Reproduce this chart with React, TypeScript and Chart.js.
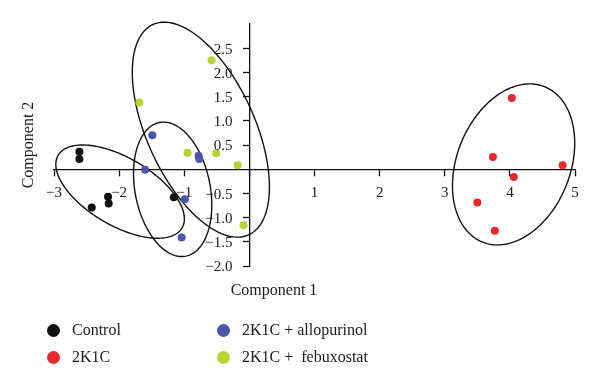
import React, { useEffect, useRef } from 'react';
import Chart from 'chart.js/auto';

// ---- data ----
const controlX = [-2.61, -2.61, -2.42, -2.17, -2.16, -1.16];
const controlY = [0.36, 0.21, -0.79, -0.57, -0.71, -0.58];

const k2c1X = [4.03, 3.74, 4.81, 4.06, 3.5, 3.77];
const k2c1Y = [1.47, 0.25, 0.08, -0.16, -0.69, -1.27];

const alloX = [-1.49, -1.6, -0.78, -0.77, -0.99, -1.04];
const alloY = [0.7, -0.01, 0.28, 0.21, -0.62, -1.41];

const febuX = [-0.58, -1.69, -0.95, -0.51, -0.18, -0.09];
const febuY = [2.25, 1.38, 0.34, 0.33, 0.08, -1.16];

const seriesNames = ['Control', '2K1C', '2K1C + allopurinol', '2K1C +  febuxostat'];
const seriesColors = ['#111111', '#e8282b', '#4d55aa', '#b6d334'];

const xTicks = [-3, -2, -1, 0, 1, 2, 3, 4, 5];
const yTicks = [-2, -1.5, -1, -0.5, 0, 0.5, 1, 1.5, 2, 2.5, 3];

// confidence ellipses in data units: centre, first and second conjugate half-axis vectors
const ellipseCentersX = [-1.985, -1.178, -0.745, 4.057];
const ellipseCentersY = [-0.463, -0.416, 0.817, 0.099];
const ellipseUX = [0.951, 0.202, 0.734, 0.474];
const ellipseUY = [-0.751, -1.381, -2.173, 1.607];
const ellipseVX = [-0.264, -0.566, -0.755, 0.81];
const ellipseVY = [-0.603, -0.149, -0.46, -0.43];

const FONT = "'Liberation Serif', 'DejaVu Serif', serif";
const minus = (s: string) => s.replace('-', '\u2212');
const yLabel = (v: number) => (v === 0 || v === 3 ? '' : minus(v.toFixed(1)));

const ellipsePlugin = {
  id: 'ellipses',
  beforeDatasetsDraw(chart: any) {
    const { ctx } = chart;
    const xs = chart.scales.x;
    const ys = chart.scales.y;
    ctx.save();
    ctx.strokeStyle = '#111';
    ctx.lineWidth = 1.4;
    for (let k = 0; k < ellipseCentersX.length; k++) {
      ctx.beginPath();
      const n = 160;
      for (let i = 0; i <= n; i++) {
        const t = (i / n) * Math.PI * 2;
        const dx = ellipseCentersX[k] + ellipseUX[k] * Math.cos(t) + ellipseVX[k] * Math.sin(t);
        const dy = ellipseCentersY[k] + ellipseUY[k] * Math.cos(t) + ellipseVY[k] * Math.sin(t);
        const px = xs.getPixelForValue(dx);
        const py = ys.getPixelForValue(dy);
        if (i === 0) ctx.moveTo(px, py);
        else ctx.lineTo(px, py);
      }
      ctx.closePath();
      ctx.stroke();
    }
    ctx.restore();
  },
};

// y tick labels sit to the left of the tick marks (Chart.js puts them on the axis line
// for value-positioned axes), so they are drawn here from the y scale's own ticks.
const yLabelPlugin = {
  id: 'yLabels',
  afterDraw(chart: any) {
    const { ctx } = chart;
    const xs = chart.scales.x;
    const ys = chart.scales.y;
    const axisX = xs.getPixelForValue(0);
    ctx.save();
    ctx.font = `15px ${FONT}`;
    ctx.fillStyle = '#1a1a1a';
    ctx.textAlign = 'right';
    ctx.textBaseline = 'middle';
    for (const t of ys.ticks) {
      const s = yLabel(t.value);
      if (!s) continue;
      ctx.fillText(s, axisX - 17, ys.getPixelForValue(t.value) + 1.5);
    }
    ctx.restore();
  },
};

const toPoints = (xs: number[], ys: number[]) => xs.map((x, i) => ({ x, y: ys[i] }));

export default function App() {
  const ref = useRef<HTMLCanvasElement | null>(null);

  useEffect(() => {
    if (!ref.current) return;
    const allX = [controlX, k2c1X, alloX, febuX];
    const allY = [controlY, k2c1Y, alloY, febuY];
    const chart = new Chart(ref.current, {
      type: 'scatter',
      data: {
        datasets: seriesNames.map((name, i) => ({
          label: name,
          data: toPoints(allX[i], allY[i]),
          backgroundColor: seriesColors[i],
          borderColor: seriesColors[i],
          borderWidth: 0,
          pointRadius: 4,
          clip: false as any,
        })),
      },
      options: {
        responsive: false,
        animation: false,
        layout: { padding: { left: 54, right: 25, top: 24, bottom: 119 } },
        plugins: {
          legend: { display: false },
          tooltip: { enabled: false },
        },
        scales: {
          x: {
            type: 'linear',
            position: { y: 0 } as any,
            min: xTicks[0],
            max: xTicks[xTicks.length - 1],
            afterBuildTicks: (s: any) => {
              s.ticks = xTicks.map((v) => ({ value: v }));
            },
            ticks: {
              color: '#1a1a1a',
              font: { family: FONT, size: 15 },
              padding: 9,
              maxRotation: 0,
              autoSkip: false,
              callback: (v: any) => (v === 0 ? '' : minus(String(v))),
            },
            grid: {
              display: true,
              drawOnChartArea: false,
              drawTicks: true,
              tickLength: 6,
              tickColor: '#111',
              tickWidth: 1.3,
            },
            border: { display: true, color: '#111', width: 1.3 },
          },
          y: {
            type: 'linear',
            position: { x: 0 } as any,
            min: yTicks[0],
            max: yTicks[yTicks.length - 1],
            afterBuildTicks: (s: any) => {
              s.ticks = yTicks.map((v) => ({ value: v }));
            },
            ticks: {
              display: false,
              autoSkip: false,
            },
            grid: {
              display: true,
              drawOnChartArea: false,
              drawTicks: true,
              tickLength: 6,
              tickColor: (c: any) =>
                c.tick && (c.tick.value === 3 || c.tick.value === 0) ? 'rgba(0,0,0,0)' : '#111',
              tickWidth: 1.3,
            },
            border: { display: true, color: '#111', width: 1.3 },
          },
        },
      },
      plugins: [ellipsePlugin, yLabelPlugin],
    });
    return () => chart.destroy();
  }, []);

  const textStyle: React.CSSProperties = {
    position: 'absolute',
    fontFamily: FONT,
    fontSize: 16,
    color: '#1a1a1a',
    lineHeight: '20px',
    whiteSpace: 'pre',
  };
  const legendCols = [53, 223];
  const legendRows = [330, 357];
  const legendOrder = [0, 1, 2, 3];

  return (
    <div style={{ position: 'fixed', left: 0, top: 0, width: 600, height: 385, background: '#fff' }}>
      <canvas ref={ref} width={600} height={385} style={{ position: 'absolute', left: 0, top: 0 }} />
      <div style={{ ...textStyle, left: 274, top: 280, transform: 'translateX(-50%)' }}>Component 1</div>
      <div
        style={{
          ...textStyle,
          left: 28,
          top: 145,
          transform: 'translate(-50%, -50%) rotate(-90deg)',
        }}
      >
        Component 2
      </div>
      {legendOrder.map((i) => {
        const cx = legendCols[Math.floor(i / 2)];
        const cy = legendRows[i % 2];
        return (
          <React.Fragment key={i}>
            <div
              style={{
                position: 'absolute',
                left: cx - 6.5,
                top: cy - 6.5,
                width: 13,
                height: 13,
                borderRadius: '50%',
                background: seriesColors[i],
              }}
            />
            <div style={{ ...textStyle, left: cx + 19, top: cy - 10 }}>{seriesNames[i]}</div>
          </React.Fragment>
        );
      })}
    </div>
  );
}
